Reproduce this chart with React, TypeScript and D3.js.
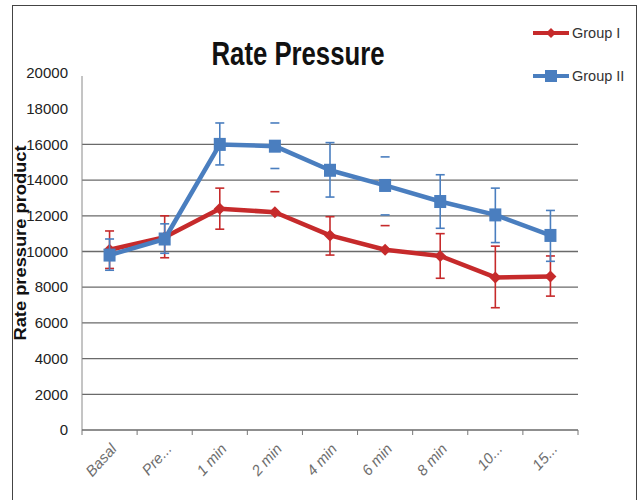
import React from "react";
import * as d3 from "d3";

const categories = ["Basal", "Pre...", "1 min", "2 min", "4 min", "6 min", "8 min", "10...", "15..."];
const group1 = [10100, 10800, 12400, 12200, 10900, 10100, 9750, 8550, 8600];
const group1High = [11150, 12000, 13550, 13350, 11950, 11450, 11000, 10300, 9750];
const group1Low: (number | null)[] = [9050, 9650, 11250, null, 9800, null, 8500, 6850, 7500];
const group2 = [9800, 10700, 16000, 15900, 14550, 13700, 12800, 12050, 10900];
const group2High = [10700, 11550, 17200, 17200, 16100, 15300, 14300, 13550, 12300];
const group2Low = [8950, 9900, 14850, 14650, 13050, 12050, 11300, 10500, 9450];
const errorStem = [true, true, true, false, true, false, true, true, true];
const yTicks = [0, 2000, 4000, 6000, 8000, 10000, 12000, 14000, 16000, 18000, 20000];
const gridValues = [2000, 4000, 6000, 8000, 10000, 12000, 14000, 16000];
const seriesNames = ["Group I", "Group II"];

const W = 639;
const H = 500;
const RED = "#c62a2b";
const BLUE = "#4a7ebf";
const FONT = "'Liberation Sans', Arial, sans-serif";

export default function App() {
  const x = d3.scaleBand<string>().domain(categories).range([82, 578]);
  const cx = (c: string) => (x(c) as number) + x.bandwidth() / 2;
  const y = d3.scaleLinear().domain([0, 20000]).range([430, 73]);
  const line = d3
    .line<number>()
    .x((_, i) => cx(categories[i]))
    .y((d) => y(d));

  const cap = 4.5;

  const errorBars = (
    vals: number[],
    hi: (number | null)[],
    lo: (number | null)[],
    color: string,
    key: string
  ) =>
    vals.map((v, i) => {
      const px = cx(categories[i]);
      const h = hi[i];
      const l = lo[i];
      return (
        <g key={key + i} stroke={color} strokeWidth={1.6}>
          {errorStem[i] && h != null && l != null && (
            <line x1={px} x2={px} y1={y(h)} y2={y(l)} />
          )}
          {h != null && <line x1={px - cap} x2={px + cap} y1={y(h)} y2={y(h)} />}
          {l != null && <line x1={px - cap} x2={px + cap} y1={y(l)} y2={y(l)} />}
        </g>
      );
    });

  const diamond = (px: number, py: number, r: number) =>
    `M${px},${py - r}L${px + r},${py}L${px},${py + r}L${px - r},${py}Z`;

  return (
    <div style={{ position: "absolute", left: 0, top: 0 }}>
      <svg width={W} height={H} style={{ display: "block", background: "#fff" }}>
        <rect x={12.5} y={5.5} width={624} height={520} fill="#fff" stroke="#444" strokeWidth={1} />

        {/* title */}
        <text
          x={298}
          y={65}
          textAnchor="middle"
          fontFamily={FONT}
          fontWeight="bold"
          fontSize={34}
          textLength={173}
          lengthAdjust="spacingAndGlyphs"
          fill="#111"
        >
          Rate Pressure
        </text>

        {/* gridlines */}
        {gridValues.map((g) => (
          <line key={"g" + g} x1={82} x2={578} y1={y(g)} y2={y(g)} stroke="#6a6a6a" strokeWidth={1.3} />
        ))}

        {/* axes */}
        <line x1={82} x2={82} y1={y(20000) + 3} y2={y(0)} stroke="#8a8a8a" strokeWidth={1} />
        <line x1={82} x2={578} y1={y(0)} y2={y(0)} stroke="#6a6a6a" strokeWidth={1.3} />
        {d3.range(categories.length + 1).map((i) => {
          const px = 82 + i * x.bandwidth();
          return <line key={"t" + i} x1={px} x2={px} y1={y(0)} y2={y(0) + 5} stroke="#777" strokeWidth={1} />;
        })}

        {/* y tick labels */}
        {yTicks.map((t) => (
          <text
            key={"yl" + t}
            x={68}
            y={y(t)}
            dy="0.35em"
            textAnchor="end"
            fontFamily={FONT}
            fontSize={15}
            fill="#222"
          >
            {t}
          </text>
        ))}

        {/* x tick labels */}
        {categories.map((c) => (
          <text
            key={"xl" + c}
            transform={`translate(${cx(c) + 4},${446}) rotate(-48)`}
            textAnchor="end"
            dy="0.35em"
            fontFamily={FONT}
            fontStyle="italic"
            fontSize={15}
            fill="#6e6e6e"
          >
            {c}
          </text>
        ))}

        {/* y axis title */}
        <text
          transform={`translate(26,243) rotate(-90)`}
          textAnchor="middle"
          fontFamily={FONT}
          fontWeight="bold"
          fontSize={16}
          textLength={195}
          lengthAdjust="spacingAndGlyphs"
          fill="#111"
        >
          Rate pressure product
        </text>

        {/* Group I */}
        {errorBars(group1, group1High, group1Low, RED, "e1")}
        <path d={line(group1) as string} fill="none" stroke={RED} strokeWidth={4.5} strokeLinejoin="round" />
        {group1.map((v, i) => (
          <path key={"m1" + i} d={diamond(cx(categories[i]), y(v), 6)} fill={RED} />
        ))}

        {/* Group II */}
        {errorBars(group2, group2High, group2Low, BLUE, "e2")}
        <path d={line(group2) as string} fill="none" stroke={BLUE} strokeWidth={4.5} strokeLinejoin="round" />
        {group2.map((v, i) => (
          <rect key={"m2" + i} x={cx(categories[i]) - 6} y={y(v) - 6.5} width={12} height={13} fill={BLUE} />
        ))}

        {/* legend */}
        {seriesNames.map((name, i) => {
          const ly = i === 0 ? 33 : 76;
          const color = i === 0 ? RED : BLUE;
          return (
            <g key={"lg" + name}>
              <line x1={533} x2={569} y1={ly} y2={ly} stroke={color} strokeWidth={4} />
              {i === 0 ? (
                <path d={diamond(551, ly, 5)} fill={color} />
              ) : (
                <rect x={545} y={ly - 6} width={12} height={12} fill={color} />
              )}
              <text x={572} y={ly} dy="0.35em" fontFamily={FONT} fontSize={14.5} fill="#333">
                {name}
              </text>
            </g>
          );
        })}
      </svg>
    </div>
  );
}
